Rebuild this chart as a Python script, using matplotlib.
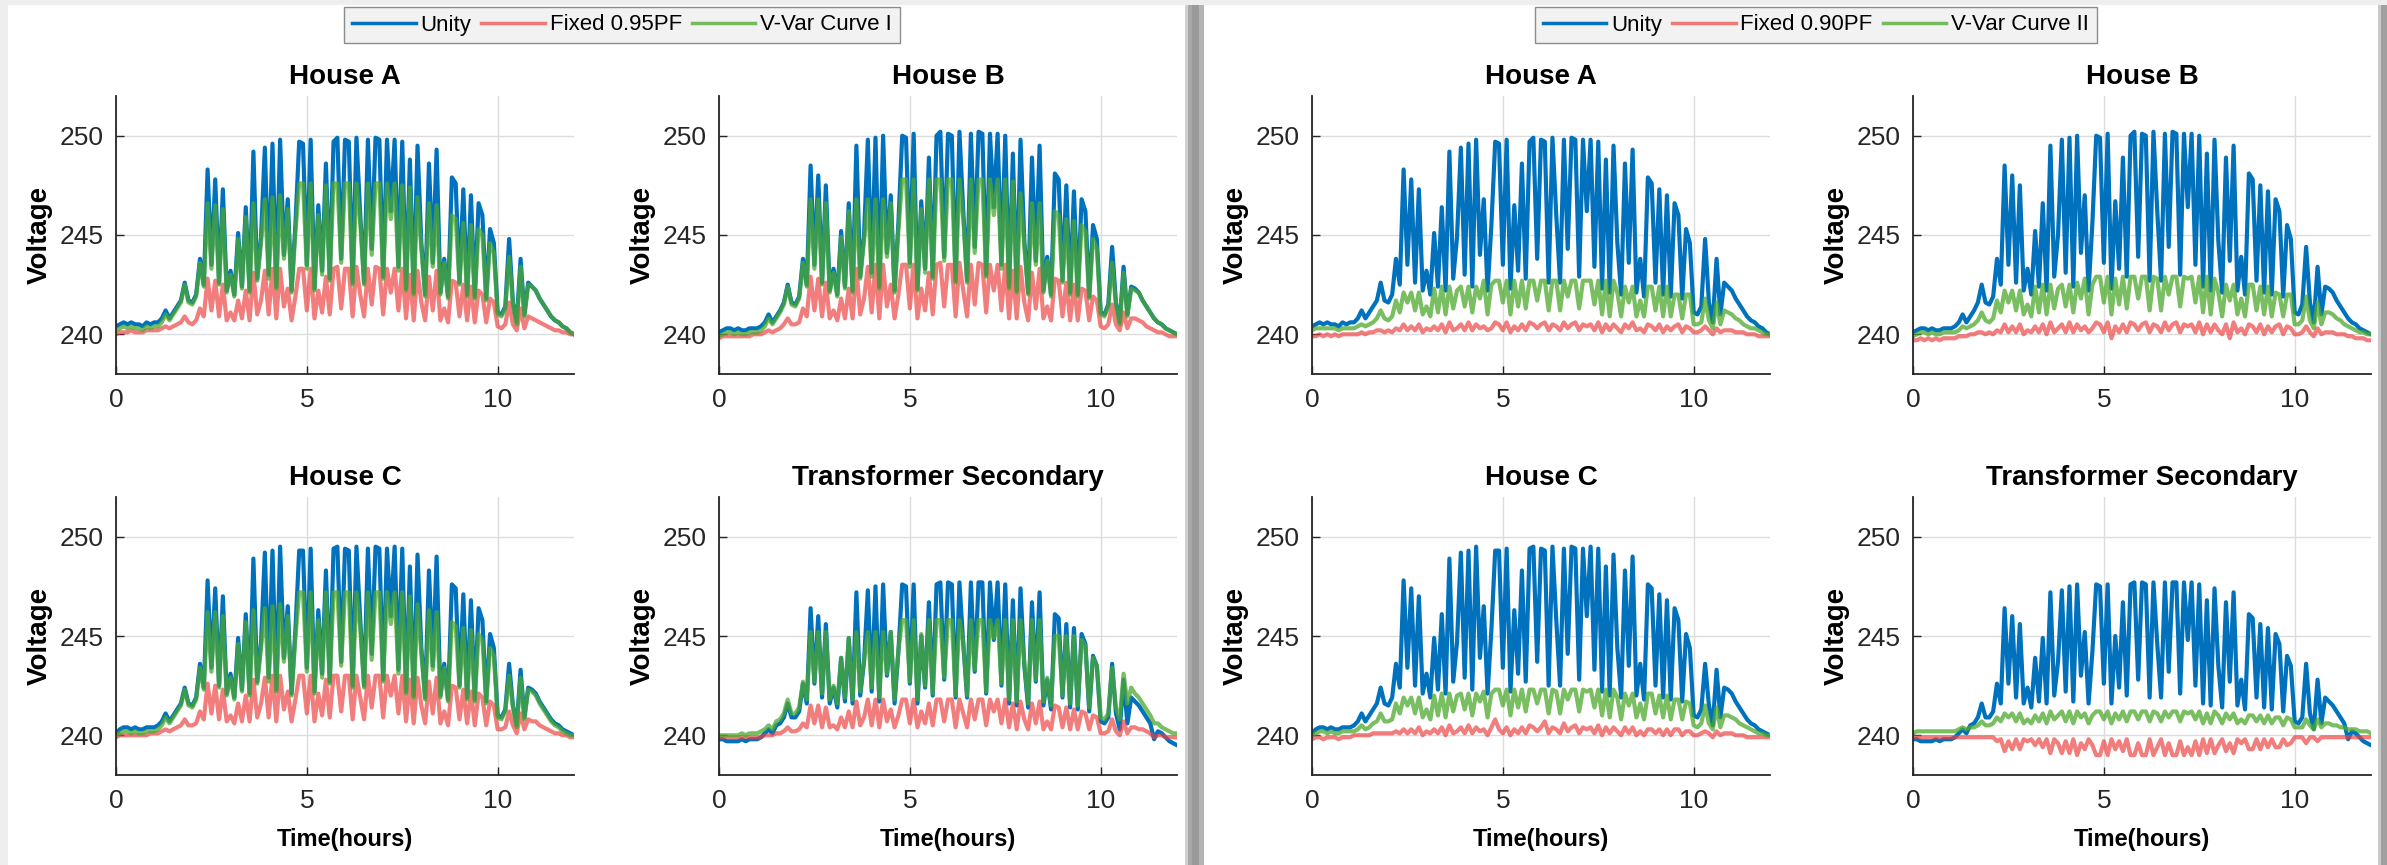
import numpy as np
import matplotlib
matplotlib.use("Agg")
import matplotlib.pyplot as plt
from matplotlib.patches import Rectangle
from matplotlib.lines import Line2D

plt.rcParams['font.family'] = ['Liberation Sans', 'DejaVu Sans']

# --- data: voltage samples every 0.1 h, 0..12 h ---
hours = np.linspace(0, 12, 121)

unity_a = [240.4,240.5,240.6,240.5,240.6,240.5,240.5,240.4,240.6,240.5,
           240.6,240.6,240.8,241.2,240.8,241.1,241.4,241.7,242.6,241.7,
           241.6,242.0,243.8,242.5,248.3,243.5,247.8,242.6,247.3,242.2,
           243.2,242.0,245.1,242.4,246.4,242.2,249.2,242.8,244.9,249.4,
           243.0,249.6,242.4,249.8,244.0,246.8,242.2,245.5,249.7,249.6,
           243.5,249.8,242.3,246.5,243.2,248.6,242.8,249.7,249.9,243.8,
           249.8,249.7,242.6,249.9,246.0,242.6,249.8,244.3,249.9,249.8,
           242.9,249.8,246.2,249.8,243.4,249.7,242.3,248.8,242.1,249.5,
           244.6,242.0,248.6,243.6,249.3,242.1,243.8,241.9,247.9,247.6,
           242.6,247.3,242.0,247.0,241.9,246.6,246.0,241.8,245.3,244.6,
           241.1,241.0,241.4,244.8,241.6,240.6,243.8,241.0,242.6,242.4,
           242.2,241.8,241.5,241.2,240.9,240.7,240.6,240.4,240.3,240.1,240.0]
unity_b = [240.1,240.2,240.3,240.3,240.2,240.3,240.2,240.2,240.3,240.3,
           240.3,240.4,240.6,241.0,240.6,240.9,241.2,241.6,242.5,241.6,
           241.5,241.9,243.8,242.5,248.5,243.5,248.0,242.6,247.5,242.2,
           243.3,242.0,245.2,242.4,246.6,242.2,249.5,242.9,245.0,249.8,
           243.1,249.9,242.4,250.0,244.1,247.0,242.2,245.6,250.0,249.9,
           243.6,250.1,242.3,246.7,243.3,248.9,242.9,250.0,250.2,243.9,
           250.1,250.0,242.7,250.2,246.2,242.7,250.1,244.4,250.2,250.1,
           243.0,250.1,246.4,250.1,243.5,250.0,242.4,249.1,242.2,249.8,
           244.7,242.1,248.9,243.7,249.5,242.2,243.9,242.0,248.1,247.8,
           242.7,247.5,242.1,247.2,242.0,246.8,246.2,241.9,245.5,244.8,
           241.1,241.0,241.5,244.4,241.6,240.6,243.4,241.0,242.4,242.3,
           242.1,241.7,241.4,241.1,240.8,240.6,240.5,240.3,240.2,240.1,240.0]
unity_c = [240.1,240.3,240.4,240.4,240.3,240.4,240.3,240.3,240.4,240.4,
           240.4,240.5,240.7,241.1,240.7,241.0,241.3,241.6,242.4,241.6,
           241.5,241.9,243.6,242.4,247.8,243.4,247.4,242.5,247.0,242.1,
           243.1,241.9,244.9,242.3,246.1,242.1,248.9,242.7,244.7,249.2,
           242.9,249.3,242.3,249.5,243.9,246.5,242.1,245.3,249.3,249.3,
           243.4,249.4,242.2,246.3,243.1,248.3,242.7,249.4,249.5,243.7,
           249.4,249.3,242.5,249.5,245.8,242.5,249.4,244.1,249.5,249.4,
           242.8,249.4,246.0,249.5,243.3,249.4,242.2,248.5,242.0,249.1,
           244.4,241.9,248.3,243.5,249.0,242.0,243.6,241.8,247.6,247.4,
           242.5,247.1,241.9,246.8,241.8,246.4,245.8,241.7,245.1,244.4,
           241.0,240.9,241.3,243.6,241.5,240.5,243.3,240.9,242.4,242.3,
           242.1,241.7,241.4,241.1,240.8,240.6,240.5,240.3,240.2,240.1,240.0]
unity_tx = [239.8,239.8,239.7,239.7,239.7,239.7,239.8,239.7,239.8,239.8,
            239.8,239.9,240.1,240.3,240.1,240.5,240.6,240.9,241.6,240.9,
            240.9,241.2,242.6,241.6,246.4,242.6,246.0,241.9,245.6,241.6,
            242.4,241.4,243.9,241.7,244.9,241.6,247.2,242.0,243.7,247.3,
            242.2,247.5,241.7,247.6,243.0,245.2,241.6,244.2,247.6,247.5,
            242.6,247.6,241.6,245.0,242.4,246.7,242.0,247.6,247.7,242.8,
            247.7,247.6,241.9,247.7,244.6,241.9,247.7,243.2,247.7,247.7,
            242.1,247.7,244.8,247.7,242.5,247.6,241.6,246.8,241.5,247.4,
            243.5,241.4,246.7,242.7,247.2,241.5,242.8,241.3,246.1,245.9,
            241.9,245.6,241.4,245.4,241.3,245.1,244.6,241.2,244.0,243.5,
            240.7,240.6,240.9,243.6,241.1,240.3,242.8,240.6,241.9,241.7,
            241.5,241.2,240.9,240.6,239.8,240.2,240.1,239.9,239.7,239.6,239.5]

# fixed 0.95 PF (left figure)
pf95_a = [240.0,240.1,240.1,240.1,240.2,240.1,240.1,240.1,240.2,240.2,
          240.2,240.2,240.3,240.4,240.3,240.4,240.5,240.6,240.9,240.6,
          240.5,240.7,241.3,240.9,242.8,241.2,242.7,240.9,242.5,240.7,
          241.1,240.7,241.7,240.8,242.2,240.7,243.1,241.0,241.7,243.2,
          241.0,243.3,240.8,243.3,241.4,242.3,240.7,241.9,243.3,243.3,
          241.2,243.3,240.8,242.2,241.1,242.9,241.0,243.3,243.4,241.3,
          243.3,243.3,240.9,243.4,242.0,240.9,243.3,241.5,243.4,243.3,
          241.0,243.3,242.1,243.3,241.2,243.3,240.8,243.0,240.7,243.2,
          241.6,240.7,242.9,241.2,243.2,240.7,241.3,240.6,242.7,242.6,
          240.9,242.5,240.7,242.4,240.6,242.2,242.0,240.6,241.8,241.6,
          240.4,240.3,240.5,241.6,240.5,240.2,241.3,240.3,240.9,240.8,
          240.7,240.6,240.5,240.4,240.3,240.2,240.2,240.1,240.1,240.0,240.0]
pf95_b = [239.8,239.9,239.9,239.9,239.9,239.9,239.9,239.9,239.9,240.0,
          240.0,240.0,240.1,240.2,240.1,240.2,240.3,240.5,240.8,240.5,
          240.5,240.6,241.3,240.9,242.9,241.2,242.8,240.9,242.6,240.8,
          241.2,240.7,241.8,240.8,242.3,240.8,243.3,241.0,241.8,243.4,
          241.1,243.5,240.8,243.5,241.4,242.5,240.8,242.0,243.5,243.5,
          241.3,243.5,240.8,242.3,241.2,243.1,241.0,243.5,243.6,241.4,
          243.5,243.5,240.9,243.6,242.2,240.9,243.5,241.5,243.6,243.5,
          241.1,243.5,242.2,243.5,241.2,243.5,240.8,243.2,240.8,243.4,
          241.6,240.7,243.1,241.3,243.3,240.8,241.4,240.7,242.8,242.7,
          240.9,242.6,240.7,242.5,240.7,242.3,242.2,240.7,241.9,241.7,
          240.4,240.3,240.5,241.5,240.5,240.2,241.1,240.3,240.8,240.8,
          240.7,240.6,240.4,240.3,240.2,240.1,240.1,240.0,239.9,239.9,239.9]
pf95_c = [239.9,240.0,240.0,240.0,240.0,240.0,240.0,240.0,240.0,240.1,
          240.1,240.1,240.2,240.3,240.2,240.3,240.4,240.5,240.8,240.5,
          240.5,240.6,241.2,240.8,242.6,241.1,242.5,240.8,242.3,240.7,
          241.0,240.6,241.6,240.7,242.0,240.7,242.8,240.9,241.6,242.9,
          240.9,243.0,240.7,243.0,241.3,242.2,240.7,241.8,243.0,243.0,
          241.1,243.0,240.7,242.1,241.0,242.8,240.9,243.0,243.0,241.2,
          243.0,243.0,240.8,243.0,241.9,240.8,243.0,241.4,243.0,243.0,
          240.9,243.0,242.0,243.0,241.1,243.0,240.7,242.8,240.6,242.9,
          241.5,240.6,242.7,241.1,242.9,240.6,241.2,240.5,242.5,242.4,
          240.8,242.3,240.6,242.2,240.5,242.1,241.9,240.5,241.7,241.5,
          240.3,240.3,240.4,241.2,240.5,240.1,241.1,240.3,240.8,240.7,
          240.7,240.5,240.4,240.3,240.2,240.1,240.1,240.0,240.0,239.9,239.9]
pf95_tx = [239.9,239.9,239.9,239.9,239.9,239.9,239.9,239.9,239.9,239.9,
           239.9,239.9,240.0,240.0,240.0,240.1,240.1,240.2,240.4,240.2,
           240.2,240.3,240.6,240.4,241.5,240.6,241.5,240.4,241.4,240.4,
           240.5,240.3,240.9,240.4,241.2,240.4,241.7,240.5,240.9,241.8,
           240.5,241.8,240.4,241.8,240.7,241.3,240.4,241.0,241.8,241.8,
           240.6,241.8,240.4,241.2,240.6,241.6,240.5,241.8,241.8,240.7,
           241.8,241.8,240.4,241.8,241.1,240.4,241.8,240.8,241.8,241.8,
           240.5,241.8,241.2,241.8,240.6,241.8,240.4,241.6,240.3,241.7,
           240.8,240.3,241.6,240.6,241.7,240.3,240.7,240.3,241.5,241.4,
           240.4,241.4,240.3,241.3,240.3,241.2,241.1,240.3,241.0,240.9,
           240.1,240.1,240.2,240.8,240.2,240.0,240.7,240.1,240.4,240.4,
           240.3,240.3,240.2,240.1,239.9,240.0,240.0,239.9,239.9,239.9,239.9]

# V-Var curve I (left figure)
curve1_a = [240.2,240.3,240.4,240.3,240.4,240.3,240.3,240.2,240.4,240.3,
            240.4,240.4,240.6,241.0,240.7,241.0,241.3,241.6,242.5,241.6,
            241.5,241.9,243.6,242.4,246.6,243.3,246.5,242.5,246.3,242.1,
            243.0,241.9,244.8,242.3,245.9,242.1,246.6,242.7,244.6,246.8,
            242.8,246.9,242.3,247.0,243.8,246.3,242.1,245.1,247.6,247.6,
            243.3,247.6,242.2,246.0,243.0,247.5,242.7,247.6,247.6,243.6,
            247.6,247.6,242.5,247.6,245.6,242.5,247.6,244.0,247.6,247.6,
            242.8,247.6,245.8,247.6,243.2,247.5,242.2,247.4,242.0,246.9,
            244.3,241.9,246.6,243.4,246.5,242.0,243.6,241.8,246.0,245.8,
            242.5,245.6,241.9,245.5,241.8,245.3,245.0,241.7,244.6,244.1,
            241.0,240.9,241.3,243.9,241.5,240.5,243.4,240.9,242.5,242.4,
            242.2,241.8,241.5,241.2,240.9,240.7,240.6,240.4,240.3,240.1,240.0]
curve1_b = [239.9,240.0,240.1,240.1,240.0,240.1,240.0,240.0,240.1,240.1,
            240.1,240.2,240.4,240.8,240.5,240.8,241.1,241.5,242.4,241.5,
            241.4,241.8,243.6,242.4,246.8,243.3,246.8,242.5,246.6,242.1,
            243.1,241.9,244.9,242.3,246.2,242.1,246.8,242.8,244.7,246.8,
            242.9,246.8,242.3,246.8,243.9,246.6,242.1,245.2,247.8,247.8,
            243.4,247.8,242.2,246.3,243.1,247.8,242.8,247.8,247.8,243.7,
            247.8,247.8,242.6,247.8,245.8,242.6,247.8,244.1,247.8,247.8,
            242.9,247.8,246.0,247.8,243.3,247.8,242.3,247.7,242.1,247.1,
            244.4,242.0,246.6,243.5,246.6,242.1,243.7,241.9,246.2,246.0,
            242.6,245.8,242.0,245.7,241.9,245.5,245.2,241.8,244.8,244.3,
            241.0,240.9,241.4,243.6,241.5,240.5,243.1,240.9,242.3,242.2,
            242.1,241.7,241.4,241.1,240.8,240.6,240.5,240.3,240.2,240.1,240.0]
curve1_c = [240.0,240.1,240.2,240.2,240.1,240.2,240.1,240.1,240.2,240.2,
            240.2,240.3,240.5,240.9,240.6,240.9,241.2,241.5,242.3,241.5,
            241.4,241.8,243.4,242.3,246.2,243.2,246.2,242.4,246.0,242.0,
            242.9,241.8,244.6,242.2,245.7,242.0,246.3,242.6,244.4,246.4,
            242.7,246.5,242.2,246.6,243.7,246.0,242.0,244.9,247.2,247.2,
            243.2,247.2,242.1,245.8,242.9,247.2,242.6,247.2,247.2,243.5,
            247.2,247.2,242.4,247.2,245.4,242.4,247.2,243.8,247.2,247.2,
            242.7,247.2,245.6,247.2,243.1,247.2,242.1,247.0,241.9,246.6,
            244.1,241.8,246.3,243.3,246.2,241.9,243.4,241.7,245.7,245.5,
            242.4,245.4,241.8,245.3,241.7,245.1,244.8,241.6,244.4,244.0,
            240.9,240.8,241.2,243.0,241.4,240.4,242.9,240.8,242.3,242.2,
            242.0,241.6,241.3,241.0,240.7,240.5,240.4,240.2,240.1,240.0,240.0]
curve1_tx = [240.0,240.0,240.0,240.0,240.0,240.0,240.1,240.0,240.1,240.1,
             240.1,240.2,240.3,240.5,240.3,240.7,240.8,241.1,241.8,241.1,
             241.1,241.4,242.7,241.8,245.2,242.7,245.2,242.1,245.2,241.8,
             242.5,241.6,243.9,241.9,244.9,241.8,245.2,242.2,243.8,245.2,
             242.4,245.2,241.9,245.2,243.1,245.2,241.8,244.3,245.8,245.8,
             242.7,245.8,241.8,245.1,242.5,245.8,242.1,245.8,245.8,242.9,
             245.8,245.8,242.0,245.8,244.7,242.0,245.8,243.3,245.8,245.8,
             242.2,245.8,244.9,245.8,242.6,245.8,241.8,245.8,241.7,245.8,
             243.6,241.6,245.8,242.8,245.8,241.7,242.9,241.5,245.0,245.0,
             242.0,245.0,241.6,245.0,241.5,244.8,244.5,241.4,243.9,243.5,
             240.9,240.8,241.1,243.4,241.4,240.8,243.1,241.6,242.4,242.1,
             241.9,241.6,241.3,241.0,240.6,240.6,240.4,240.3,240.2,240.1,240.1]

# fixed 0.90 PF (right figure)
pf90_a = [239.9,239.9,240.0,239.9,240.0,239.9,240.0,239.9,240.0,240.0,
          240.0,240.0,240.0,240.1,240.0,240.1,240.1,240.2,240.2,240.1,
          240.2,240.1,240.3,240.2,240.5,240.2,240.4,240.2,240.5,240.1,
          240.3,240.2,240.4,240.2,240.5,240.1,240.6,240.2,240.3,240.5,
          240.2,240.6,240.2,240.5,240.3,240.4,240.2,240.3,240.6,240.5,
          240.2,240.6,240.1,240.4,240.2,240.5,240.2,240.6,240.5,240.3,
          240.5,240.6,240.2,240.5,240.4,240.2,240.6,240.3,240.5,240.6,
          240.2,240.5,240.4,240.5,240.2,240.6,240.1,240.5,240.2,240.5,
          240.3,240.1,240.5,240.3,240.6,240.2,240.3,240.1,240.5,240.4,
          240.2,240.5,240.1,240.4,240.2,240.4,240.5,240.1,240.4,240.3,
          240.1,240.1,240.2,240.4,240.2,240.0,240.3,240.1,240.2,240.2,
          240.2,240.1,240.1,240.1,240.0,240.0,240.0,239.9,239.9,239.9,239.9]
pf90_b = [239.7,239.7,239.8,239.7,239.8,239.7,239.8,239.7,239.8,239.8,
          239.8,239.8,239.9,239.9,239.9,240.0,240.0,240.1,240.1,240.0,
          240.1,240.0,240.2,240.1,240.5,240.1,240.4,240.1,240.5,240.0,
          240.2,240.1,240.4,240.1,240.5,240.0,240.6,240.1,240.3,240.5,
          240.1,240.6,240.1,240.5,240.2,240.4,240.1,240.3,240.6,240.5,
          240.1,240.6,239.8,240.4,240.1,240.5,240.1,240.6,240.5,240.2,
          240.5,240.6,240.1,240.5,240.4,240.1,240.6,240.2,240.5,240.6,
          240.1,240.5,240.4,240.5,240.1,240.6,240.0,240.5,240.1,240.5,
          240.2,240.0,240.5,239.8,240.6,240.1,240.3,240.0,240.5,240.4,
          240.1,240.5,240.0,240.4,240.1,240.4,240.5,240.0,240.4,240.3,
          240.0,240.0,240.1,240.4,240.1,239.9,240.3,240.0,240.1,240.1,
          240.1,240.0,240.0,240.0,239.9,239.9,239.8,239.8,239.8,239.7,239.7]
pf90_c = [239.8,239.9,239.9,239.8,239.9,239.9,239.9,239.8,239.9,239.9,
          239.9,240.0,240.0,240.0,240.0,240.0,240.1,240.1,240.1,240.1,
          240.1,240.1,240.2,240.1,240.3,240.1,240.3,240.1,240.4,240.0,
          240.2,240.1,240.3,240.1,240.4,240.0,240.5,240.1,240.2,240.4,
          240.1,240.5,240.1,240.4,240.2,240.3,240.0,240.4,240.8,240.3,
          240.1,240.4,240.0,240.3,240.1,240.4,240.1,240.5,240.4,240.2,
          240.4,240.7,240.1,240.4,240.3,240.1,240.6,240.2,240.4,240.5,
          240.1,240.4,240.3,240.4,240.1,240.5,240.0,240.4,240.1,240.4,
          240.2,240.0,240.4,240.1,240.4,240.0,240.2,240.0,240.3,240.3,
          240.1,240.3,240.0,240.3,240.0,240.3,240.3,240.0,240.2,240.2,
          240.0,240.0,240.1,240.2,240.1,239.9,240.2,240.0,240.1,240.1,
          240.1,240.0,240.0,240.0,239.9,239.9,239.9,239.9,239.9,239.9,239.9]
pf90_tx = [239.9,239.9,239.9,239.9,239.9,239.9,239.9,239.9,239.9,239.9,
           239.9,239.9,239.9,239.9,239.9,239.9,239.9,239.9,239.9,239.9,
           239.9,239.9,239.7,239.8,239.2,239.7,239.3,239.8,239.3,239.8,
           239.7,239.8,239.5,239.8,239.4,239.8,239.1,239.8,239.6,239.1,
           239.7,239.1,239.8,239.0,239.6,239.3,239.8,239.5,239.0,239.0,
           239.7,239.0,239.8,239.3,239.7,239.2,239.8,239.0,239.0,239.6,
           239.0,239.0,239.8,239.0,239.4,239.8,239.0,239.6,239.0,239.0,
           239.7,239.0,239.4,239.0,239.7,239.0,239.8,239.1,239.8,239.1,
           239.5,239.8,239.2,239.6,239.1,239.8,239.6,239.8,239.3,239.3,
           239.8,239.3,239.8,239.4,239.8,239.4,239.4,239.8,239.5,239.6,
           239.9,239.9,239.9,239.6,239.9,239.9,239.7,239.9,239.9,239.9,
           239.9,239.9,239.9,239.9,239.9,239.9,239.9,239.9,239.9,239.9,239.9]

# V-Var curve II (right figure)
curve2_a = [240.2,240.3,240.3,240.3,240.3,240.3,240.3,240.2,240.3,240.3,
            240.3,240.3,240.4,240.5,240.4,240.5,240.6,240.8,241.2,240.8,
            240.7,240.9,241.7,241.1,242.1,241.6,242.1,241.2,242.1,241.0,
            241.4,240.9,242.3,241.1,242.4,241.0,242.4,241.3,242.2,242.4,
            241.4,242.4,241.1,242.4,241.8,242.7,241.0,242.5,242.7,242.7,
            241.6,242.7,241.0,242.7,241.4,242.7,241.3,242.7,242.7,241.7,
            242.7,242.7,241.2,242.7,242.7,241.2,242.7,241.9,242.7,242.7,
            241.3,242.7,242.7,242.7,241.5,242.7,241.0,242.7,240.9,242.7,
            242.1,240.9,242.4,241.6,242.4,240.9,241.7,240.9,242.4,242.4,
            241.2,242.4,240.9,242.4,240.9,242.0,242.0,240.8,242.0,242.0,
            240.5,240.5,240.6,241.8,240.7,240.3,241.6,240.5,241.2,241.1,
            241.0,240.8,240.7,240.5,240.4,240.3,240.3,240.2,240.1,240.0,240.0]
curve2_b = [239.9,240.0,240.1,240.1,240.0,240.1,240.0,240.0,240.1,240.1,
            240.1,240.1,240.2,240.4,240.3,240.4,240.5,240.7,241.1,240.7,
            240.6,240.8,241.7,241.1,242.2,241.6,242.2,241.2,242.2,241.0,
            241.5,240.9,242.4,241.1,242.5,241.0,242.5,241.3,242.3,242.5,
            241.4,242.5,241.1,242.6,241.8,242.8,241.0,242.5,242.9,242.9,
            241.6,242.9,241.0,242.8,241.5,242.9,241.3,242.9,242.9,241.8,
            242.9,242.9,241.2,242.9,242.8,241.2,242.9,242.0,242.9,242.9,
            241.4,242.9,242.8,242.9,241.6,242.9,241.1,242.9,241.0,242.8,
            242.1,240.9,242.5,241.7,242.5,241.0,241.8,240.9,242.5,242.5,
            241.2,242.4,241.0,242.4,240.9,242.1,242.0,240.9,242.0,242.0,
            240.5,240.5,240.7,241.9,240.7,240.3,241.6,240.5,241.1,241.1,
            241.0,240.8,240.7,240.5,240.4,240.3,240.2,240.1,240.1,240.0,240.0]
curve2_c = [240.0,240.1,240.2,240.2,240.1,240.2,240.1,240.1,240.2,240.2,
            240.2,240.2,240.3,240.5,240.3,240.4,240.6,240.7,241.1,240.7,
            240.7,240.8,241.6,241.1,241.9,241.5,241.9,241.1,241.9,240.9,
            241.3,240.8,242.0,241.0,242.1,240.9,242.1,241.2,242.0,242.1,
            241.3,242.1,241.0,242.1,241.7,242.2,240.9,242.1,242.3,242.3,
            241.5,242.3,241.0,242.3,241.4,242.3,241.2,242.3,242.3,241.6,
            242.3,242.3,241.1,242.3,242.2,241.1,242.3,241.8,242.3,242.3,
            241.2,242.3,242.2,242.3,241.4,242.3,241.0,242.3,240.9,242.3,
            241.9,240.8,242.1,241.5,242.1,240.9,241.6,240.8,242.1,242.1,
            241.1,242.0,240.9,242.0,240.8,241.8,241.8,240.8,241.7,241.6,
            240.5,240.4,240.6,241.5,240.6,240.3,241.4,240.4,241.0,241.0,
            240.9,240.8,240.6,240.5,240.4,240.3,240.2,240.1,240.1,240.0,240.0]
curve2_tx = [240.1,240.2,240.2,240.2,240.2,240.2,240.2,240.2,240.2,240.2,
             240.2,240.2,240.3,240.4,240.3,240.4,240.4,240.5,240.7,240.5,
             240.5,240.6,240.9,240.7,241.1,240.9,241.1,240.7,241.1,240.6,
             240.8,240.6,241.0,240.7,241.1,240.6,241.2,240.8,241.0,241.2,
             240.7,241.2,240.6,241.2,240.9,241.1,240.6,241.0,241.2,241.2,
             240.8,241.2,240.6,241.1,240.8,241.2,240.7,241.2,241.2,240.8,
             241.2,241.2,240.7,241.2,241.1,240.7,241.2,240.9,241.2,241.2,
             240.7,241.2,241.1,241.2,240.8,241.2,240.6,241.1,240.6,241.2,
             241.0,240.6,241.1,240.8,241.1,240.6,240.8,240.6,241.0,241.0,
             240.7,241.0,240.6,241.0,240.6,240.9,240.9,240.5,240.9,240.8,
             240.4,240.4,240.4,240.8,240.5,240.3,240.8,240.4,240.6,240.6,
             240.5,240.5,240.4,240.4,240.3,240.3,240.3,240.2,240.2,240.2,240.1]

titles = ["House A", "House B", "House C", "Transformer Secondary"]
labels_left = ["Unity", "Fixed 0.95PF", "V-Var Curve I"]
labels_right = ["Unity", "Fixed 0.90PF", "V-Var Curve II"]

unity = [unity_a, unity_b, unity_c, unity_tx]
left_red = [pf95_a, pf95_b, pf95_c, pf95_tx]
left_green = [curve1_a, curve1_b, curve1_c, curve1_tx]
right_red = [pf90_a, pf90_b, pf90_c, pf90_tx]
right_green = [curve2_a, curve2_b, curve2_c, curve2_tx]

BLUE = '#0072BD'
RED = (0.92, 0.25, 0.25)
GREEN = (0.30, 0.66, 0.18)
RED_A, GREEN_A = 0.68, 0.75

W, H = 2387, 865
fig = plt.figure(figsize=(W / 100, H / 100), dpi=100, facecolor='#eeeeee')


def px_rect(x0, y0, x1, y1, color):
    fig.add_artist(Rectangle((x0 / W, 1 - y1 / H), (x1 - x0) / W, (y1 - y0) / H,
                             transform=fig.transFigure, facecolor=color,
                             edgecolor='none', zorder=-10))


# window backgrounds and the shadow strips between them
px_rect(8, 5, 1185, H, 'white')
px_rect(1185, 5, 1188, H, '#d0d0d0')
px_rect(1188, 5, 1192, H, '#a8a8a8')
px_rect(1192, 5, 1199, H, '#9a9a9a')
px_rect(1199, 5, 1204, H, '#b4b4b4')
px_rect(1204, 5, 2378, H, 'white')
px_rect(2378, 5, 2381, H, '#c8c8c8')
px_rect(2381, 5, W, H, '#a0a0a0')

AX_W, AX_H = 458, 278
cols = {'left': [116, 719], 'right': [1312, 1913]}
rows = [96, 497]


def make_axes(x, y, title, series, xlabel):
    ax = fig.add_axes([x / W, 1 - (y + AX_H) / H, AX_W / W, AX_H / H])
    u, r, g = series
    ax.plot(hours, u, color=BLUE, lw=3)
    ax.plot(hours, r, color=RED, lw=3, alpha=RED_A)
    ax.plot(hours, g, color=GREEN, lw=3, alpha=GREEN_A)
    ax.set_xlim(0, 12)
    ax.set_ylim(238, 252)
    ax.set_xticks([0, 5, 10])
    ax.set_yticks([240, 245, 250])
    ax.grid(True, color='#dcdcdc', lw=1.0)
    ax.set_axisbelow(True)
    for s in ['top', 'right']:
        ax.spines[s].set_visible(False)
    for s in ['left', 'bottom']:
        ax.spines[s].set_color('#262626')
        ax.spines[s].set_linewidth(1.3)
    ax.tick_params(direction='in', length=6, width=1, colors='#262626', labelsize=19)
    ax.tick_params(axis='x', pad=10)
    ax.tick_params(axis='y', pad=9)
    ax.set_title(title, fontsize=20, fontweight='bold', pad=9)
    ax.set_ylabel('Voltage', fontsize=20, fontweight='bold', labelpad=5)
    if xlabel:
        ax.set_xlabel('Time(hours)', fontsize=17, fontweight='bold', labelpad=11)
    return ax


for side, reds, greens in [('left', left_red, left_green), ('right', right_red, right_green)]:
    for k in range(4):
        x = cols[side][k % 2]
        y = rows[k // 2]
        make_axes(x, y, titles[k], (unity[k], reds[k], greens[k]), k >= 2)


def add_legend(labels, cx):
    handles = [Line2D([], [], color=BLUE, lw=2.5),
               Line2D([], [], color=RED, lw=2.5, alpha=RED_A),
               Line2D([], [], color=GREEN, lw=2.5, alpha=GREEN_A)]
    leg = fig.legend(handles, labels, loc='center', bbox_to_anchor=(cx / W, 1 - 25 / H),
                     ncol=3, fontsize=16, handlelength=2.85, handletextpad=0.22,
                     columnspacing=0.45, borderpad=0.35, fancybox=False,
                     framealpha=1, facecolor='#f2f2f2', edgecolor='#8c8c8c')
    leg.get_frame().set_linewidth(1.0)


add_legend(labels_left, 622)
add_legend(labels_right, 1816)

fig.savefig('out.png', dpi=100, facecolor=fig.get_facecolor())
